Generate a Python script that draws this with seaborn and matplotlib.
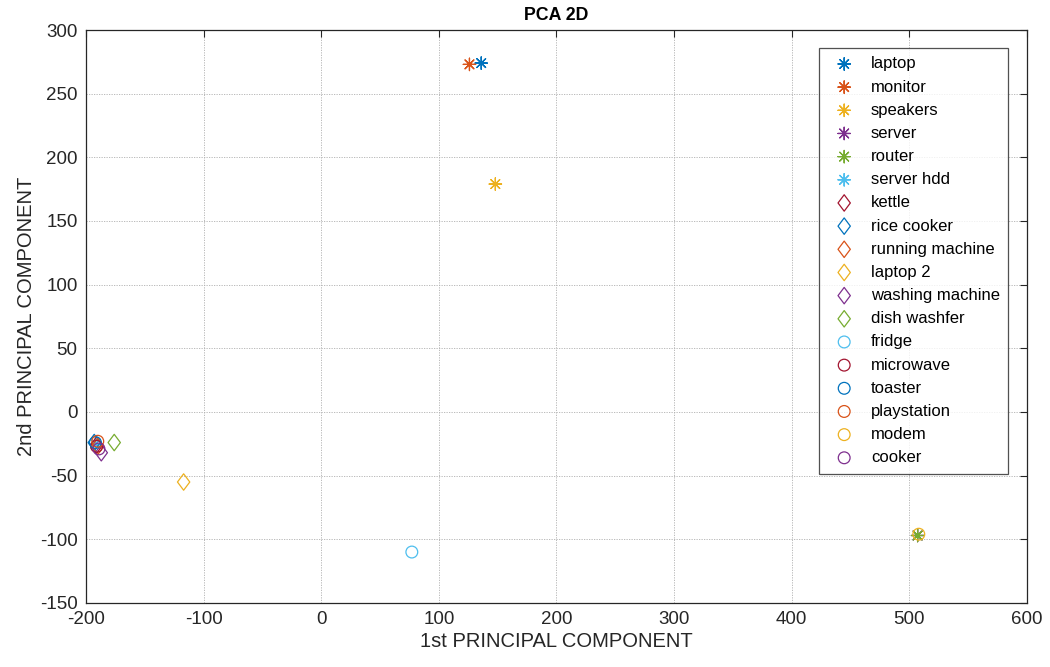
import matplotlib
matplotlib.use("Agg")
import matplotlib.pyplot as plt
from matplotlib.path import Path
import seaborn as sns

# Device names and their first two principal-component scores
names = ["laptop", "monitor", "speakers", "server", "router", "server hdd",
         "kettle", "rice cooker", "running machine", "laptop 2",
         "washing machine", "dish washfer", "fridge", "microwave", "toaster",
         "playstation", "modem", "cooker"]
pc1 = [136, 126, 148, 507, 507, -192,
       -191, -193, -190, -117,
       -187, -176, 77, -191, -192,
       -190, 508, -189]
pc2 = [274, 273, 179, -97, -97, -25,
       -26, -24, -27, -55,
       -32, -24, -110, -27, -24,
       -23, -96, -29]
marker_kinds = ["star"] * 6 + ["diamond"] * 6 + ["circle"] * 6

x_ticks = [-200, -100, 0, 100, 200, 300, 400, 500, 600]
y_ticks = [-150, -100, -50, 0, 50, 100, 150, 200, 250, 300]

# MATLAB default colour order
line_colors = ["#0072BD", "#D95319", "#EDB120", "#7E2F8E",
               "#77AC30", "#4DBEEE", "#A2142F"]

sns.set_style("white")
plt.rcParams["font.family"] = ["Liberation Sans", "DejaVu Sans"]
plt.rcParams["axes.unicode_minus"] = False
text_col = "#262626"

fig = plt.figure(figsize=(10.5, 6.67), dpi=100)
ax = fig.add_axes([0.0819, 0.096, 0.8962, 0.859])

# slightly tall diamond, like MATLAB's 'd' marker
diamond = Path([(0, 1), (0.75, 0), (0, -1), (-0.75, 0), (0, 1)],
               [Path.MOVETO, Path.LINETO, Path.LINETO, Path.LINETO, Path.CLOSEPOLY])
marker_map = {"star": ((8, 2, 0), 80), "diamond": (diamond, 140), "circle": ("o", 72)}

for i, (name, x, y, kind) in enumerate(zip(names, pc1, pc2, marker_kinds)):
    col = line_colors[i % len(line_colors)]
    m, s = marker_map[kind]
    sns.scatterplot(x=[x], y=[y], ax=ax, marker=m, s=s, color=col,
                    label=name, legend=False, zorder=3)
    coll = ax.collections[-1]
    coll.set_facecolor("none")
    coll.set_edgecolor(col)
    coll.set_linewidth(0.9)
    coll.set_label(name)

ax.set_xlim(-200, 600)
ax.set_ylim(-150, 300)
ax.set_xticks(x_ticks)
ax.set_yticks(y_ticks)
ax.grid(True, color="#b0b0b0", linestyle=(0, (1.5, 1.5)), linewidth=0.6)
ax.set_axisbelow(True)
ax.tick_params(direction="in", length=5, width=0.8, colors=text_col,
               labelsize=13.5, top=True, right=True, pad=6)
for sp in ax.spines.values():
    sp.set_color(text_col)
    sp.set_linewidth(0.9)

ax.set_title("PCA 2D", fontsize=12.8, fontweight="bold", color="black", pad=7)
ax.set_xlabel("1st PRINCIPAL COMPONENT", fontsize=14.5, color=text_col, labelpad=3)
ax.set_ylabel("2nd PRINCIPAL COMPONENT", fontsize=14.5, color=text_col, labelpad=3)

leg = ax.legend(loc="upper right", bbox_to_anchor=(0.980, 0.9686), fontsize=12,
                frameon=True, fancybox=False, edgecolor=text_col,
                borderpad=0.5, labelspacing=0.49, handletextpad=0.6,
                handlelength=2.0, borderaxespad=0.0)
leg.get_frame().set_linewidth(0.9)
for t in leg.get_texts():
    t.set_color("black")

fig.savefig("out.png", dpi=100)
